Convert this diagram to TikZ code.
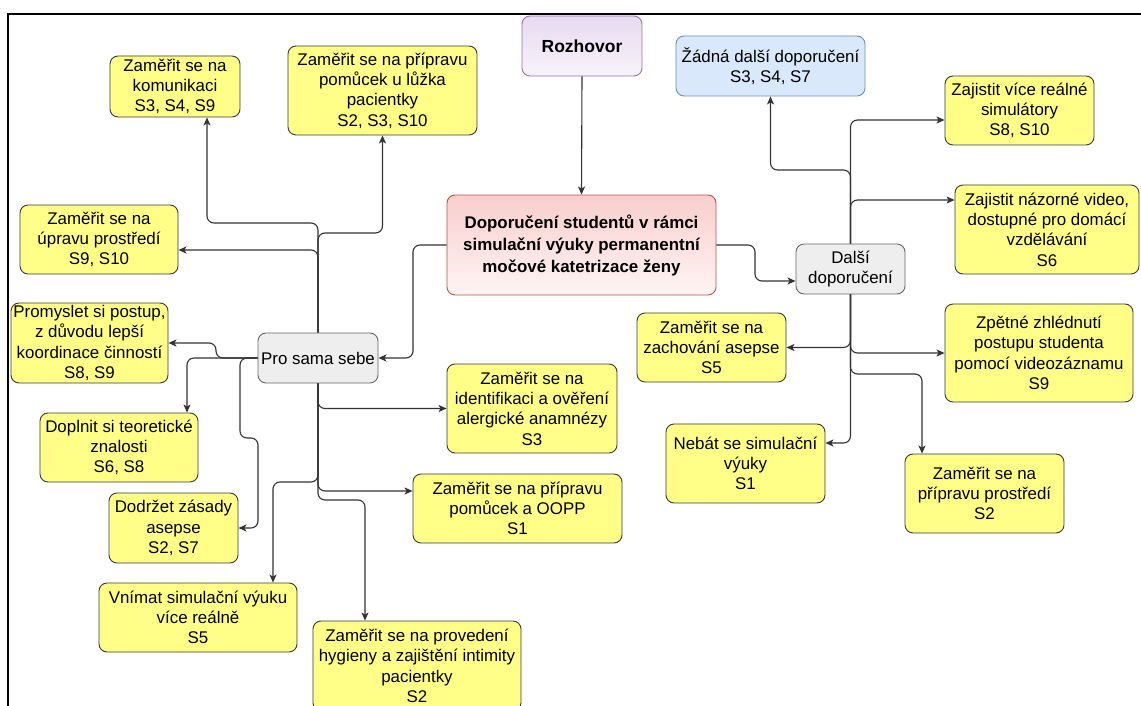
\documentclass[tikz,border=0pt]{standalone}
\usepackage{fontspec}
\setmainfont{Liberation Sans}
\usetikzlibrary{arrows.meta}
\definecolor{yel}{HTML}{FFFF88}
\definecolor{yelline}{HTML}{36393D}
\definecolor{edge}{HTML}{333333}
\definecolor{grayfill}{HTML}{EEEEEE}
\definecolor{grayline}{HTML}{666666}
\definecolor{bluefill}{HTML}{DAE8FC}
\definecolor{blueline}{HTML}{6C8EBF}
\definecolor{purtop}{HTML}{E6DAF0}
\definecolor{purbot}{HTML}{F7F3FA}
\definecolor{purline}{HTML}{9673A6}
\definecolor{redtop}{HTML}{F8CECC}
\definecolor{redbot}{HTML}{FEF4F4}
\definecolor{redline}{HTML}{B85450}
\begin{document}
\begin{tikzpicture}[x=1pt,y=-1pt,
  box/.style={rectangle, rounded corners=8pt, line width=0.9pt, align=center,
    inner sep=0pt, font=\fontsize{16.9}{20.3}\selectfont, text=black},
  sz/.style 2 args={minimum width=#1pt, minimum height=#2pt},
  ybox/.style={box, fill=yel, draw=yelline},
  gbox/.style={box, fill=grayfill, draw=grayline},
  bbox/.style={box, fill=bluefill, draw=blueline},
  pbox/.style={box, top color=purtop, bottom color=purbot, draw=purline, font=\fontsize{17.5}{21}\selectfont\bfseries},
  rbox/.style={box, top color=redtop, bottom color=redbot, draw=redline, font=\fontsize{16.9}{22}\selectfont\bfseries},
  arr/.style={draw=edge, line width=1.1pt, rounded corners=7pt, -{Stealth[length=8pt,width=7pt,inset=2pt]}}
]
\useasboundingbox (0,0) rectangle (1141,706);
\clip (0,0) rectangle (1141,706);
\fill[white] (0,0) rectangle (1141,706);

% outer frame
\draw[line width=2.2pt, black] (8,720) -- (8,14) -- (1150,14);

% central topic and source
\node[pbox, sz={120}{60}] (r) at (582,46) {Rozhovor};
\node[rbox, sz={269}{100}] (m) at (581.5,245) {Doporučení studentů v rámci\\simulační výuky permanentní\\močové katetrizace ženy};

% branch heads
\node[gbox, sz={120}{50}] (pss) at (318,358) {Pro sama sebe};
\node[gbox, sz={109}{50}] (d) at (850.5,269) {Další\\doporučení};
\node[bbox, sz={189}{60}] (z) at (770.5,66) {Žádná další doporučení\\S3, S4, S7};

% recommendations for oneself
\node[ybox, sz={130}{61}] (k) at (175,86.5) {Zaměřit se na\\komunikaci\\S3, S4, S9};
\node[ybox, sz={189}{89}] (l) at (382.5,90.5) {Zaměřit se na přípravu\\pomůcek u lůžka\\pacientky\\S2, S3, S10};
\node[ybox, sz={158}{69}] (u) at (99,239.5) {Zaměřit se na\\úpravu prostředí\\S9, S10};
\node[ybox, sz={157}{80}] (pr) at (89.5,343) {Promyslet si postup,\\z důvodu lepší\\koordinace činností\\S8, S9};
\node[ybox, sz={158}{69}] (dp) at (119,447.5) {Doplnit si teoretické\\znalosti\\S6, S8};
\node[ybox, sz={129}{70}] (dz) at (173.5,528) {Dodržet zásady\\asepse\\S2, S7};
\node[ybox, sz={198}{69}] (vn) at (198,617.5) {Vnímat simulační výuku\\více reálně\\S5};
\node[ybox, sz={208}{90}] (hy) at (417,666) {Zaměřit se na provedení\\hygieny a zajištění intimity\\pacientky\\S2};
\node[ybox, sz={209}{69}] (op) at (517.5,508.5) {Zaměřit se na přípravu\\pomůcek a OOPP\\S1};
\node[ybox, sz={170}{89}] (id) at (532,408.5) {Zaměřit se na\\identifikaci a ověření\\alergické anamnézy\\S3};

% further recommendations
\node[ybox, sz={149}{69}] (s1) at (1019.5,110.5) {Zajistit více reálné\\simulátory\\S8, S10};
\node[ybox, sz={184}{89}] (s2) at (1047,229.5) {Zajistit názorné video,\\dostupné pro domácí\\vzdělávání\\S6};
\node[ybox, sz={149}{69}] (a5) at (711.5,347.5) {Zaměřit se na\\zachování asepse\\S5};
\node[ybox, sz={188}{98}] (zp) at (1039,353) {Zpětné zhlédnutí\\postupu studenta\\pomocí videozáznamu\\S9};
\node[ybox, sz={159}{79}] (nb) at (745.5,463.5) {Nebát se simulační\\výuky\\S1};
\node[ybox, sz={159}{79}] (pp) at (984.5,493.5) {Zaměřit se na\\přípravu prostředí\\S2};

% connectors from the main topic
\draw[arr] (r.south) -- (m.north);
\draw[arr] (m.west) -- (413,245) |- (pss.east);
\draw[arr] (m.east) -- (755,245) |- ([yshift=-12pt]d.west);

% further recommendations
\draw[arr] (d.north) -- (850.5,170) -| (z.south);
\draw[arr] (d.north) |- ([yshift=-9.5pt]s1.west);
\draw[arr] (d.north) |- ([yshift=29.5pt]s2.west);
\draw[arr] (d.south) |- (a5.east);
\draw[arr] (d.south) |- (zp.west);
\draw[arr] (d.south) -- (850.5,374) -| ([xshift=-62.5pt]pp.north);
\draw[arr] (d.south) |- ([yshift=20.5pt]nb.east);

% recommendations for oneself, upward
\draw[arr] (pss.north) -- (318,223) -| ([xshift=32pt]k.south);
\draw[arr] (pss.north) -- (318,233) -| (l.south);
\draw[arr] (pss.north) |- ([yshift=-10.5pt]u.east);

% leftward
\draw[arr] (pss.west) -- (216,358) |- (pr.east);
\draw[arr] (pss.west) -| ([xshift=68pt]dp.north);
\draw[arr] (pss.west) -- (240,358) -- (240,438) -- (258,438) |- (dz.east);

% downward
\draw[arr] (pss.south) |- (id.west);
\draw[arr] (pss.south) -- (318,482) -| ([xshift=75pt]vn.north);
\draw[arr] (pss.south) |- ([yshift=17.5pt]op.west);
\draw[arr] (pss.south) -- (318,500) -| ([xshift=-52pt]hy.north);
\end{tikzpicture}
\end{document}
